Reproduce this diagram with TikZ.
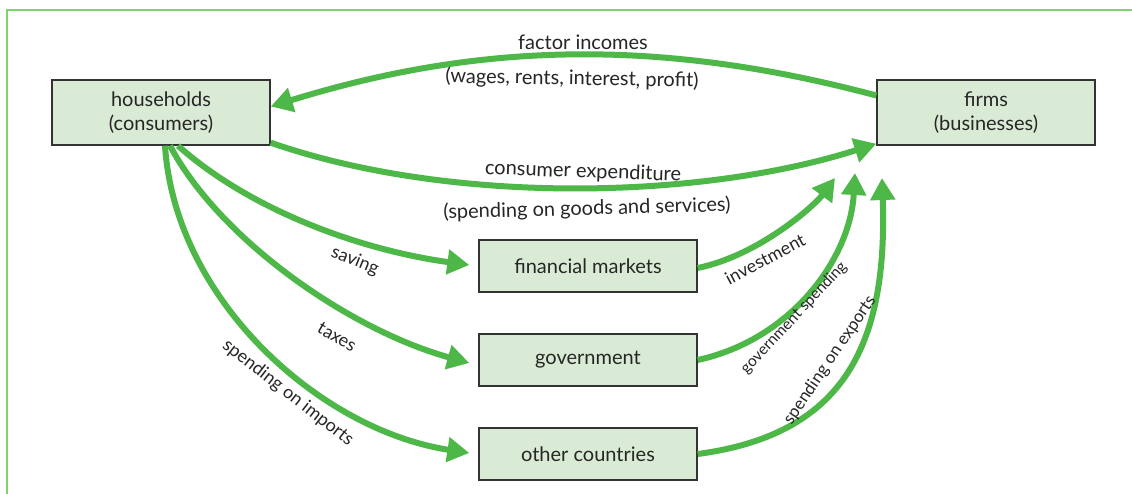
\documentclass[tikz,border=0pt]{standalone}
\usepackage{fontspec}
\setmainfont{Lato}
\usetikzlibrary{arrows.meta}
\definecolor{flow}{HTML}{4DB848}
\definecolor{boxfill}{HTML}{DAEBD5}
\definecolor{boxline}{HTML}{333333}
\definecolor{framec}{HTML}{7ED26F}
\tikzset{
  sector/.style={draw=boxline, line width=1.4pt, fill=boxfill, minimum width=218pt, minimum height=65pt, align=center, font=\fontsize{20}{24}\selectfont, text=black!85},
  smallsector/.style={sector, minimum height=52pt},
  flowarrow/.style={draw=flow, line width=6pt, -{Triangle[length=22pt,width=24pt]}},
  lbl/.style={font=\fontsize{20}{24}\selectfont, text=black!85, inner sep=0pt},
  slbl/.style={font=\fontsize{18}{21}\selectfont, text=black!85, inner sep=0pt}
}
\begin{document}
\begin{tikzpicture}[x=1pt,y=-1pt]
\useasboundingbox (0,0) rectangle (1132,494);
\fill[white] (0,0) rectangle (1132,494);
\draw[framec, line width=1.5pt] (1132,10) -- (7,10) -- (7,494);

\node[sector] (hh) at (161,112.5) {households\\(consumers)};
\node[sector] (firms) at (986,112.5) {firms\\(businesses)};
\node[smallsector] (fin) at (588,266) {financial markets};
\node[smallsector] (gov) at (588,360) {government};
\node[smallsector] (oc) at (588,454) {other countries};

% factor incomes
\draw[flowarrow] ([yshift=17pt]firms.west) .. controls (650,35) and (470,45) .. ([yshift=6pt]hh.east);
% consumer expenditure
\draw[flowarrow] ([yshift=3pt]hh.south east) .. controls (450,205) and (700,200) .. ([yshift=2pt]firms.south west);
% saving, taxes, imports
\draw[flowarrow] ([xshift=17pt]hh.south) .. controls (250,210) and (360,250) .. ([xshift=-9pt,yshift=1pt]fin.west);
\draw[flowarrow] ([xshift=9pt]hh.south) .. controls (220,240) and (350,330) .. ([xshift=-9pt,yshift=-3pt]gov.west);
\draw[flowarrow] ([xshift=4pt]hh.south) .. controls (175,300) and (320,430) .. ([xshift=-9pt,yshift=1pt]oc.west);
% injections
\coordinate (tinv) at (835,178);
\coordinate (tgov) at (855,173);
\coordinate (texp) at (882,178);
\draw[flowarrow] ([yshift=-2pt]fin.east) .. controls (760,255) and (815,205) .. (tinv);
\draw[flowarrow] (gov.east) .. controls (790,340) and (850,260) .. (tgov);
\draw[flowarrow] (oc.east) .. controls (840,435) and (888,350) .. (texp);

% labels
\node[lbl] (l1) at (583,42) {factor incomes};
\node[lbl, rotate=-1] (l2) at (572,79) {(wages, rents, interest, profit)};
\node[lbl, rotate=-2] (l3) at (583,172) {consumer expenditure};
\node[lbl, rotate=1.5] (l4) at (587,209) {(spending on goods and services)};
\node[slbl, rotate=-22] (l5) at (355,261) {saving};
\node[slbl, rotate=-30] (l6) at (337,337) {taxes};
\node[slbl, rotate=-38] (l7) at (288,393) {spending on imports};
\node[slbl, rotate=28] (l8) at (765,259) {investment};
\node[slbl, font=\fontsize{15.5}{18}\selectfont, rotate=47] (l9) at (794,318) {government spending};
\node[slbl, font=\fontsize{17}{20}\selectfont, rotate=56] (l10) at (830,360) {spending on exports};
\end{tikzpicture}
\end{document}
